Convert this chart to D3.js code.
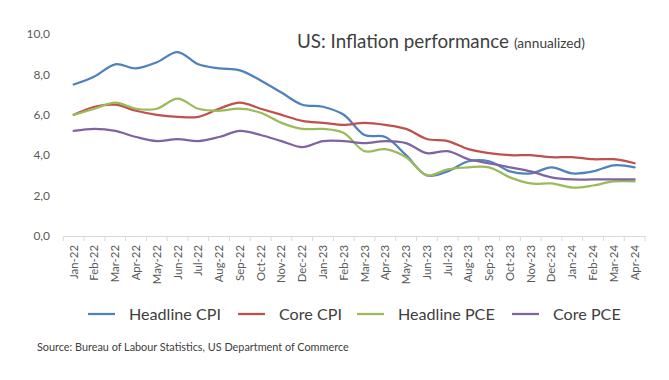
<!DOCTYPE html>
<html>
<head>
<meta charset="utf-8">
<script src="https://cdn.jsdelivr.net/npm/d3@7"></script>
<style>
  html, body { margin: 0; padding: 0; background: #fff; }
  svg { display: block; }
  text { font-family: Lato, "Open Sans", sans-serif; }
</style>
</head>
<body>
<svg id="chart" width="669" height="380"></svg>
<script>
const months = ["Jan-22","Feb-22","Mar-22","Apr-22","May-22","Jun-22","Jul-22","Aug-22","Sep-22","Oct-22","Nov-22","Dec-22",
  "Jan-23","Feb-23","Mar-23","Apr-23","May-23","Jun-23","Jul-23","Aug-23","Sep-23","Oct-23","Nov-23","Dec-23",
  "Jan-24","Feb-24","Mar-24","Apr-24"];
const headlineCPI = [7.5,7.9,8.5,8.3,8.6,9.1,8.5,8.3,8.2,7.7,7.1,6.5,6.4,6.0,5.0,4.9,4.0,3.0,3.2,3.7,3.7,3.2,3.1,3.4,3.1,3.2,3.5,3.4];
const coreCPI     = [6.0,6.4,6.5,6.2,6.0,5.9,5.9,6.3,6.6,6.3,6.0,5.7,5.6,5.5,5.6,5.5,5.3,4.8,4.7,4.3,4.1,4.0,4.0,3.9,3.9,3.8,3.8,3.6];
const headlinePCE = [6.0,6.3,6.6,6.3,6.3,6.8,6.3,6.2,6.3,6.1,5.6,5.3,5.3,5.1,4.2,4.3,3.9,3.0,3.3,3.4,3.4,2.9,2.6,2.6,2.4,2.5,2.7,2.7];
const corePCE     = [5.2,5.3,5.2,4.9,4.7,4.8,4.7,4.9,5.2,5.0,4.7,4.4,4.7,4.7,4.6,4.7,4.6,4.1,4.2,3.8,3.6,3.4,3.2,2.9,2.8,2.8,2.8,2.8];
const seriesNames = ["Headline CPI","Core CPI","Headline PCE","Core PCE"];
const seriesColors = ["#4F81BD","#C0504D","#9BBB59","#8064A2"];
const yTicks = [0,2,4,6,8,10];
const titleText = "US: Inflation performance";
const subtitleText = "(annualized)";
const sourceText = "Source: Bureau of Labour Statistics, US Department of Commerce";

const seriesData = [headlineCPI, coreCPI, headlinePCE, corePCE];

const svg = d3.select("#chart");

// font size that makes a string a given width
function fitSize(str, targetWidth) {
  const t = svg.append("text").attr("font-size", 100).text(str);
  const w = t.node().getComputedTextLength();
  t.remove();
  return 100 * targetWidth / w;
}

const x = d3.scaleBand().domain(months).range([63.3, 645]).padding(0);
const y = d3.scaleLinear().domain([0, 10]).range([236, 34]);

// X axis
const xAxis = d3.axisBottom(x).tickSize(0).tickFormat("");
const gx = svg.append("g").attr("transform", `translate(0,${y(0)})`).call(xAxis);
gx.select(".domain").attr("stroke", "#d9d9d9").attr("stroke-width", 1);
const bounds = months.map(m => x(m)).concat([x.range()[1]]);
svg.append("g").selectAll("line").data(bounds).join("line")
  .attr("x1", d => d).attr("x2", d => d)
  .attr("y1", y(0)).attr("y2", y(0) + 5)
  .attr("stroke", "#d9d9d9").attr("stroke-width", 1);

const xLabelSize = fitSize("Jan-22", 34);
svg.append("g").selectAll("text").data(months).join("text")
  .attr("transform", d => `translate(${x(d) + x.bandwidth() / 2},${y(0) + 9}) rotate(-90)`)
  .attr("text-anchor", "end")
  .attr("dy", "0.35em")
  .attr("font-size", xLabelSize)
  .attr("fill", "#595959")
  .text(d => d);

// Y labels
const yLabelSize = fitSize("10,0", 23.5);
svg.append("g").selectAll("text").data(yTicks).join("text")
  .attr("x", 50)
  .attr("y", d => y(d))
  .attr("dy", "0.35em")
  .attr("text-anchor", "end")
  .attr("font-size", yLabelSize)
  .attr("fill", "#595959")
  .text(d => d3.format(".1f")(d).replace(".", ","));

// Lines
const line = d3.line()
  .x((d, i) => x(months[i]) + x.bandwidth() / 2)
  .y(d => y(d))
  .curve(d3.curveCatmullRom.alpha(0.5));
svg.append("g").selectAll("path").data(seriesData).join("path")
  .attr("d", d => line(d))
  .attr("fill", "none")
  .attr("stroke", (d, i) => seriesColors[i])
  .attr("stroke-width", 2.25)
  .attr("stroke-linejoin", "round")
  .attr("stroke-linecap", "round");

// Title
const title = svg.append("text").attr("x", 297).attr("y", 47.5).attr("fill", "#404040");
title.append("tspan").attr("font-size", fitSize(titleText, 212)).text(titleText);
title.append("tspan").attr("font-size", fitSize(subtitleText, 71)).attr("dx", 5).text(subtitleText);

// Legend
const legendX = [88, 238, 357, 512];
const legendSize = fitSize("Headline CPI", 92);
const lg = svg.append("g").selectAll("g").data(seriesNames).join("g")
  .attr("transform", (d, i) => `translate(${legendX[i]},314)`);
lg.append("line").attr("x1", 0).attr("x2", 27).attr("y1", 0).attr("y2", 0)
  .attr("stroke", (d, i) => seriesColors[i]).attr("stroke-width", 2.25);
lg.append("text").attr("x", 41).attr("y", 6).attr("font-size", legendSize).attr("fill", "#404040").text(d => d);

// Source
svg.append("text").attr("x", 37).attr("y", 351).attr("font-size", fitSize(sourceText, 312)).attr("fill", "#404040").text(sourceText);
</script>
</body>
</html>
